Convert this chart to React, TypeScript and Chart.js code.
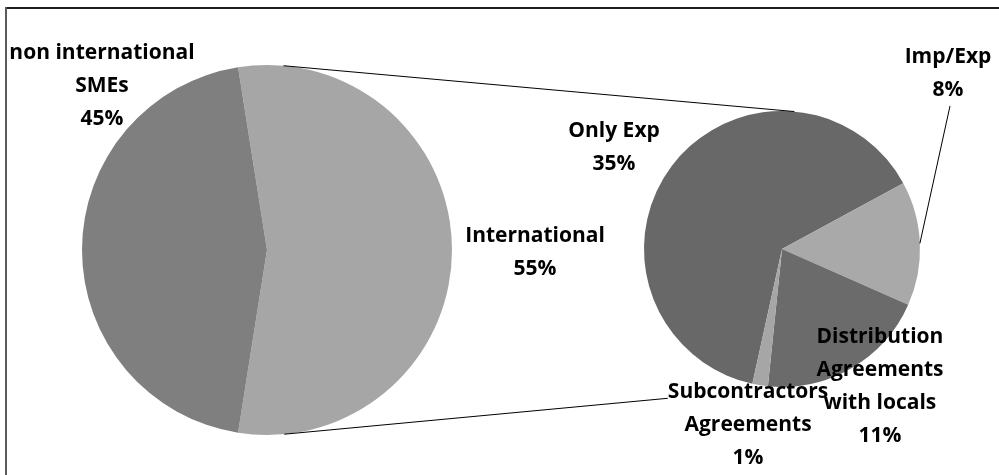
import React, { useEffect, useRef } from "react";
import { Chart, registerables } from "chart.js";

Chart.register(...registerables);

// ---- data ----
const mainLabels = ["International", "non international SMEs"];
const mainValues = [55, 45];
const mainColors = ["#a6a6a6", "#7f7f7f"];
const mainLabelLines = [["International"], ["non international", "SMEs"]];

const subLabels = ["Only Exp", "Imp/Exp", "Distribution Agreements with locals", "Subcontractors Agreements"];
const subValues = [35, 8, 11, 1];
const subColors = ["#686868", "#a9a9a9", "#6b6b6b", "#a6a6a6"];
const subLabelLines = [["Only Exp"], ["Imp/Exp"], ["Distribution", "Agreements", "with locals"], ["Subcontractors", "Agreements"]];

// ---- layout (label anchor offsets in units of pie radius) ----
const mainLabelPos = [[1.449, 0.016], [-0.892, -0.886]];
const subLabelPos = [[-1.217, -0.736], [1.203, -1.272], [0.71, 1.0], [-0.246, 1.279]];
const subLeader = [false, true, false, false];

const W = 999;
const H = 475;
const FONT = "bold 21px 'Open Sans', 'Noto Sans', sans-serif";
const LINE_H = 33;

type Rect = { x: number; y: number; w: number; h: number };

function labelBlocks(chart: any, linesArr: string[][], values: number[], pos: number[][]) {
  const meta = chart.getDatasetMeta(0);
  const arc0: any = meta.data[0];
  const cx = arc0.x, cy = arc0.y, r = arc0.outerRadius;
  return linesArr.map((lines, i) => {
    const all = [...lines, values[i] + "%"];
    const bx = cx + pos[i][0] * r;
    const by = cy + pos[i][1] * r;
    return { lines: all, bx, by };
  });
}

export default function App() {
  const leftRef = useRef<HTMLCanvasElement>(null);
  const rightRef = useRef<HTMLCanvasElement>(null);

  useEffect(() => {
    const left = new Chart(leftRef.current as HTMLCanvasElement, {
      type: "pie",
      data: {
        labels: mainLabels,
        datasets: [{ data: mainValues, backgroundColor: mainColors, borderWidth: 0 }],
      },
      options: {
        responsive: false,
        animation: false,
        events: [],
        rotation: -9,
        layout: { padding: { left: 82, top: 65, right: 999 - 82 - 370, bottom: 475 - 65 - 370 } },
        plugins: { legend: { display: false }, tooltip: { enabled: false } },
      },
    });

    const overlay = {
      id: "overlay",
      afterDraw(chart: any) {
        const ctx = chart.ctx as CanvasRenderingContext2D;
        const lArc: any = left.getDatasetMeta(0).data[0];
        const rArc: any = chart.getDatasetMeta(0).data[0];
        const x1 = lArc.x, y1 = lArc.y, r1 = lArc.outerRadius;
        const x2 = rArc.x, y2 = rArc.y, r2 = rArc.outerRadius;

        ctx.save();
        // frame
        ctx.fillStyle = "#1e1e1e";
        ctx.fillRect(5, 7, W - 5, 2);
        ctx.fillStyle = "#5a5a5a";
        ctx.fillRect(5, 7, 2, H - 7);

        ctx.font = FONT;
        const blocks = [
          ...labelBlocks(left, mainLabelLines, mainValues, mainLabelPos),
          ...labelBlocks(chart, subLabelLines, subValues, subLabelPos),
        ];
        const rects: Rect[] = [];
        blocks.forEach((b) => {
          const n = b.lines.length;
          b.lines.forEach((t, j) => {
            const w = ctx.measureText(t).width;
            const ly = b.by + (j - (n - 1) / 2) * LINE_H;
            rects.push({ x: b.bx - w / 2, y: ly - 11, w, h: 22 });
          });
        });

        // connector lines (external tangents), hidden under label text boxes
        ctx.save();
        ctx.beginPath();
        ctx.rect(0, 0, W, H);
        rects.forEach((r) => ctx.rect(r.x, r.y, r.w, r.h));
        ctx.clip("evenodd");
        const dx = x2 - x1, dy = y2 - y1;
        const d = Math.hypot(dx, dy);
        const ux = dx / d, uy = dy / d;
        const k = (r1 - r2) / d;
        const h = Math.sqrt(1 - k * k);
        ctx.strokeStyle = "#000";
        ctx.lineWidth = 1;
        [[uy, -ux], [-uy, ux]].forEach(([px, py]) => {
          const nx = k * ux + h * px;
          const ny = k * uy + h * py;
          ctx.beginPath();
          ctx.moveTo(x1 + r1 * nx, y1 + r1 * ny);
          ctx.lineTo(x2 + r2 * nx, y2 + r2 * ny);
          ctx.stroke();
        });
        ctx.restore();

        // leader lines
        const subBlocks = labelBlocks(chart, subLabelLines, subValues, subLabelPos);
        const meta = chart.getDatasetMeta(0);
        subLeader.forEach((on, i) => {
          if (!on) return;
          const a: any = meta.data[i];
          const mid = (a.startAngle + a.endAngle) / 2;
          const b = subBlocks[i];
          const n = b.lines.length;
          const sy = b.by + ((n - 1) / 2) * LINE_H + 16;
          ctx.beginPath();
          ctx.moveTo(b.bx + 2, sy);
          ctx.lineTo(a.x + a.outerRadius * Math.cos(mid), a.y + a.outerRadius * Math.sin(mid));
          ctx.strokeStyle = "#000";
          ctx.lineWidth = 1;
          ctx.stroke();
        });

        // labels
        ctx.fillStyle = "#000";
        ctx.textAlign = "center";
        ctx.textBaseline = "middle";
        blocks.forEach((b) => {
          const n = b.lines.length;
          b.lines.forEach((t, j) => {
            ctx.fillText(t, b.bx, b.by + (j - (n - 1) / 2) * LINE_H);
          });
        });
        ctx.restore();
      },
    };

    const right = new Chart(rightRef.current as HTMLCanvasElement, {
      type: "pie",
      data: {
        labels: subLabels,
        datasets: [{ data: subValues, backgroundColor: subColors, borderWidth: 0 }],
      },
      options: {
        responsive: false,
        animation: false,
        events: [],
        rotation: 61.5 - (subValues[0] / subValues.reduce((s, v) => s + v, 0)) * 360,
        layout: { padding: { left: 644, top: 111, right: 999 - 644 - 276, bottom: 475 - 111 - 276 } },
        plugins: { legend: { display: false }, tooltip: { enabled: false } },
      },
      plugins: [overlay],
    });

    return () => {
      right.destroy();
      left.destroy();
    };
  }, []);

  const cs: React.CSSProperties = { position: "absolute", left: 0, top: 0, width: W, height: H };
  return (
    <div style={{ position: "absolute", left: 0, top: 0, width: W, height: H, background: "#fff" }}>
      <canvas ref={leftRef} width={W} height={H} style={cs} />
      <canvas ref={rightRef} width={W} height={H} style={cs} />
    </div>
  );
}
